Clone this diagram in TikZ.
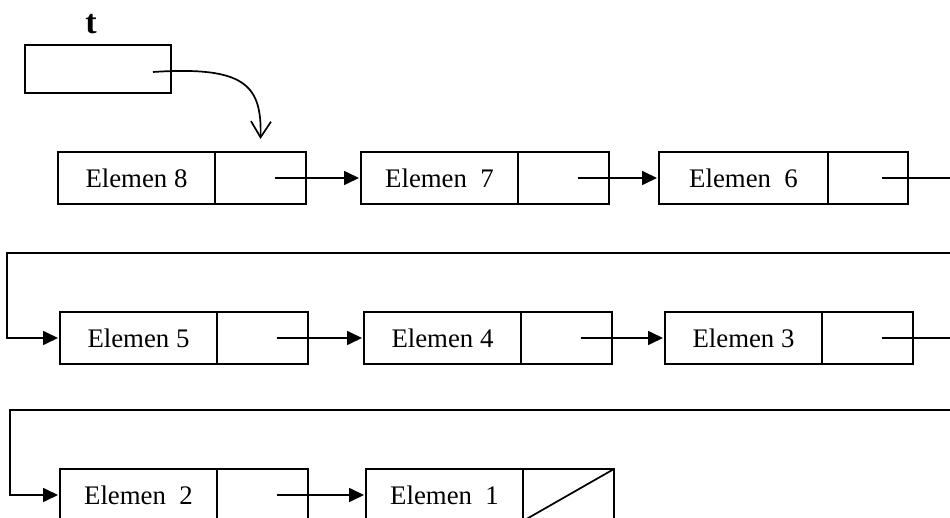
\documentclass[tikz,border=0pt]{standalone}
\usepackage{fontspec}
\setmainfont{Liberation Serif}
\usetikzlibrary{arrows.meta,positioning}

\begin{document}
\begin{tikzpicture}[
    x=0.5pt, y=-0.5pt,
    line width=0.85pt,
    every node/.style={
        font=\fontsize{13.4}{15}\selectfont,
        inner sep=0pt,
        outer sep=0pt},
    datapart/.style={draw, rectangle, minimum width=78.5pt, minimum height=26pt},
    ptrpart/.style={draw, rectangle, minimum width=45.5pt, minimum height=26pt},
    link/.style={-{Triangle[length=7.5pt,width=7pt]}, shorten >=1pt}]
    \useasboundingbox (0,0) rectangle (950,518);
    \clip (0,0) rectangle (950,518);

    \node[font=\fontsize{17}{20}\selectfont\bfseries] (tname) at (91,24) {t};
    \node[draw, minimum width=73pt, minimum height=24pt] (tbox) at (98,69) {};

    \node[datapart] (d8) at (136.5,178) {Elemen 8};
    \node[ptrpart, right=0pt of d8] (p8) {};
    \node[datapart] (d7) at (439.5,178) {Elemen~~7};
    \node[ptrpart, right=0pt of d7] (p7) {};
    \node[datapart, minimum width=84.5pt] (d6) at (743.5,178) {Elemen~~6};
    \node[ptrpart, minimum width=40pt, right=0pt of d6] (p6) {};

    \node[datapart] (d5) at (138.5,338) {Elemen 5};
    \node[ptrpart, right=0pt of d5] (p5) {};
    \node[datapart] (d4) at (442.5,338) {Elemen 4};
    \node[ptrpart, right=0pt of d4] (p4) {};
    \node[datapart] (d3) at (743.5,338) {Elemen 3};
    \node[ptrpart, right=0pt of d3] (p3) {};

    \node[datapart] (d2) at (138.5,495) {Elemen~~2};
    \node[ptrpart, right=0pt of d2] (p2) {};
    \node[datapart] (d1) at (444.5,495) {Elemen~~1};
    \node[ptrpart, right=0pt of d1] (p1) {};

    \coordinate (wrap1) at (7,253);
    \coordinate (wrap2) at (10,410);

    \draw[-{Straight Barb[length=8pt,width=10pt]}]
        ([xshift=27.5pt,yshift=-1.5pt]tbox.center)
        .. controls (245,66) and (262,85) .. ([yshift=6.5pt]p8.north);

    \draw[link] ([xshift=7pt]p8.center) -- (d7.west);
    \draw[link] ([xshift=7pt]p7.center) -- (d6.west);
    \draw[link] ([xshift=7pt]p6.center) -- ++(120,0) |- (wrap1) |- (d5.west);
    \draw[link] ([xshift=7pt]p5.center) -- (d4.west);
    \draw[link] ([xshift=7pt]p4.center) -- (d3.west);
    \draw[link] ([xshift=7pt]p3.center) -- ++(120,0) |- (wrap2) |- (d2.west);
    \draw[link] ([xshift=7pt]p2.center) -- (d1.west);
    \draw (p1.north east) -- (p1.south west);
\end{tikzpicture}
\end{document}
